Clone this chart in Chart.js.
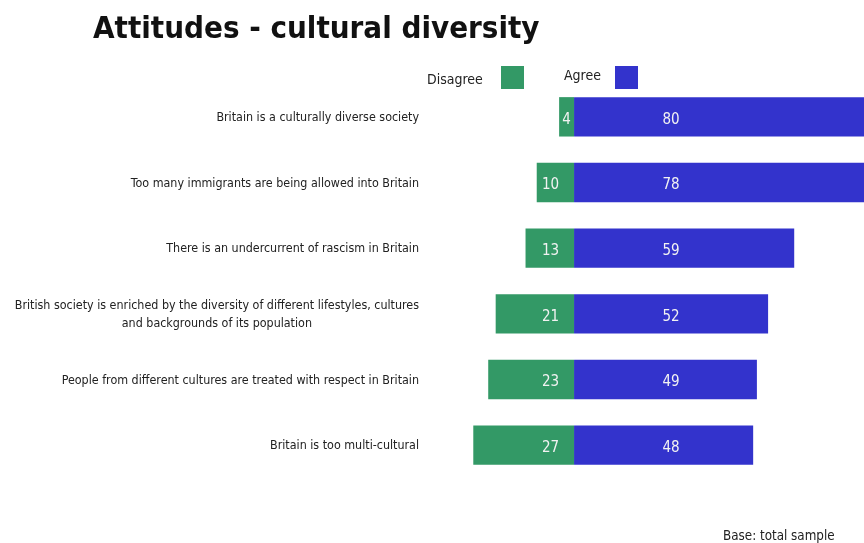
<!DOCTYPE html>
<html>
<head>
<meta charset="utf-8">
<script src="https://cdn.jsdelivr.net/npm/chart.js@4.4.1/dist/chart.umd.min.js"></script>
<style>
  html, body { margin: 0; padding: 0; background: #fff; }
  #wrap { position: relative; width: 864px; height: 543px; overflow: hidden; }
</style>
</head>
<body>
<div id="wrap"><canvas id="attitudesChart" width="864" height="543"></canvas></div>
<script>
const statements = [
  "Britain is a culturally diverse society",
  "Too many immigrants are being allowed into Britain",
  "There is an undercurrent of rascism in Britain",
  ["British society is enriched by the diversity of different lifestyles, cultures", "and backgrounds of its population"],
  "People from different cultures are treated with respect in Britain",
  "Britain is too multi-cultural"
];
const disagree = [4, 10, 13, 21, 23, 27];
const agree = [80, 78, 59, 52, 49, 48];

const GREEN = "#339966";
const BLUE = "#3333cc";
const LABEL_FONT = "'DejaVu Sans Condensed', 'Liberation Sans Narrow', sans-serif";
const LABEL_RIGHT = 419;

// title, legend, footnote, statement labels and the numbers inside the bars
const decorations = {
  id: "decorations",
  afterDatasetsDraw(chart) {
    const ctx = chart.ctx;
    const xs = chart.scales.x;
    const ys = chart.scales.y;
    ctx.save();

    ctx.fillStyle = "#f2f2f2";
    ctx.font = "15px " + LABEL_FONT;
    ctx.textBaseline = "middle";
    chart.data.datasets.forEach((ds, di) => {
      const meta = chart.getDatasetMeta(di);
      meta.data.forEach((bar, i) => {
        const v = String(Math.abs(ds.data[i]));
        const width = Math.abs(bar.base - bar.x);
        if (di === 1) {
          ctx.textAlign = "center";
          ctx.fillText(v, xs.getPixelForValue(26), bar.y + 3);
        } else if (width < 30) {
          ctx.textAlign = "center";
          ctx.fillText(v, (bar.x + bar.base) / 2, bar.y + 3);
        } else {
          ctx.textAlign = "right";
          ctx.fillText(v, bar.base - 15, bar.y + 3);
        }
      });
    });

    // statement labels: right-aligned block, wrapped lines centred inside it
    ctx.fillStyle = "#222";
    ctx.font = "12.4px " + LABEL_FONT;
    ctx.textAlign = "center";
    statements.forEach((s, i) => {
      const lines = Array.isArray(s) ? s : [s];
      const w = Math.max(...lines.map((l) => ctx.measureText(l).width));
      const cx = LABEL_RIGHT - w / 2;
      const cy = ys.getPixelForValue(i) + 1;
      const lh = 18;
      lines.forEach((l, j) => {
        ctx.fillText(l, cx, cy + (j - (lines.length - 1) / 2) * lh);
      });
    });

    ctx.fillStyle = "#111";
    ctx.textAlign = "left";
    ctx.textBaseline = "alphabetic";
    ctx.font = "bold 31px " + LABEL_FONT;
    ctx.fillText("Attitudes - cultural diversity", 93, 38);

    ctx.font = "14px " + LABEL_FONT;
    ctx.fillStyle = "#222";
    ctx.fillText("Disagree", 427, 84);
    ctx.fillText("Agree", 564, 80);
    ctx.fillStyle = GREEN;
    ctx.fillRect(501, 66, 23, 23);
    ctx.fillStyle = BLUE;
    ctx.fillRect(615, 66, 23, 23);

    ctx.fillStyle = "#222";
    ctx.font = "13.3px " + LABEL_FONT;
    ctx.fillText("Base: total sample", 723, 540);
    ctx.restore();
  }
};

new Chart(document.getElementById("attitudesChart"), {
  type: "bar",
  data: {
    labels: statements,
    datasets: [
      {
        label: "Disagree",
        data: disagree.map((v) => -v),
        backgroundColor: GREEN,
        barPercentage: 0.6,
        categoryPercentage: 1,
      },
      {
        label: "Agree",
        data: agree,
        backgroundColor: BLUE,
        barPercentage: 0.6,
        categoryPercentage: 1,
      },
    ],
  },
  options: {
    indexAxis: "y",
    responsive: false,
    animation: false,
    layout: { padding: { top: 84, bottom: 65, left: 0, right: 0 } },
    plugins: {
      legend: { display: false },
      title: { display: false },
      tooltip: { enabled: false },
    },
    scales: {
      x: {
        stacked: true,
        display: false,
        min: -38.6,
        max: 77.7,
      },
      y: {
        stacked: true,
        grid: { display: false },
        border: { display: false },
        afterFit: (scale) => { scale.width = 430; },
        ticks: { display: false },
      },
    },
  },
  plugins: [decorations],
});
</script>
</body>
</html>
